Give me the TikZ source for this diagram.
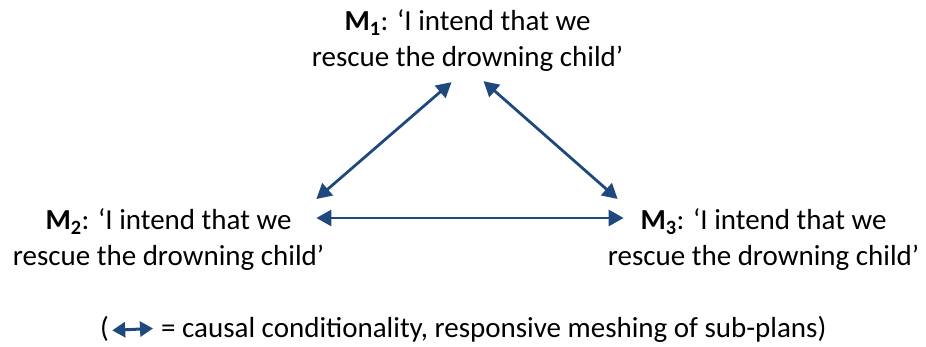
\documentclass[tikz,border=0pt]{standalone}
\usepackage{fontspec}
\setmainfont{Carlito}
\usetikzlibrary{arrows.meta,calc}
\definecolor{arrowblue}{HTML}{1F497D}
\tikzset{
  stmt/.style={align=center, inner sep=0pt, font=\fontsize{29}{36}\selectfont},
  legendtxt/.style={inner sep=0pt, font=\fontsize{29}{36}\selectfont},
  link/.style={draw=arrowblue, line width=2.8pt,
    {Triangle[length=15pt,width=16pt]}-{Triangle[length=15pt,width=16pt]}},
  keylink/.style={draw=arrowblue, line width=3pt,
    {Triangle[length=13pt,width=15pt]}-{Triangle[length=13pt,width=15pt]}}
}
\newcommand{\Mlab}[1]{\textbf{M\textsubscript{#1}}}
\begin{document}
\begin{tikzpicture}[x=1pt,y=-1pt]
\useasboundingbox (0,0) rectangle (926,347);
\node[stmt] (m1) at (467.5,41) {\Mlab{1}: ‘I intend that we\\rescue the drowning child’};
\node[stmt] (m2) at (168.5,240) {\Mlab{2}: ‘I intend that we\\rescue the drowning child’};
\node[stmt] (m3) at (763.5,240) {\Mlab{3}: ‘I intend that we\\rescue the drowning child’};
\draw[link] ([xshift=-16pt,yshift=-10pt]m1.south) -- ($(m2.east)+(-8,-41)$);
\draw[link] ([xshift=16pt,yshift=-9pt]m1.south) -- ($(m3.west)+(10,-41)$);
\draw[link] ($(m2.east)+(-8,-22)$) -- ($(m3.west)+(16,-22)$);
\node[legendtxt, anchor=base west] (lp) at (100,337) {(};
\node[legendtxt, anchor=base west] (lt) at (161,337) {= causal conditionality, responsive meshing of sub-plans)};
\draw[keylink] ([xshift=3pt,yshift=-2pt]lp.east) -- ([xshift=-8pt]lp.east -| lt.west);
\end{tikzpicture}
\end{document}
